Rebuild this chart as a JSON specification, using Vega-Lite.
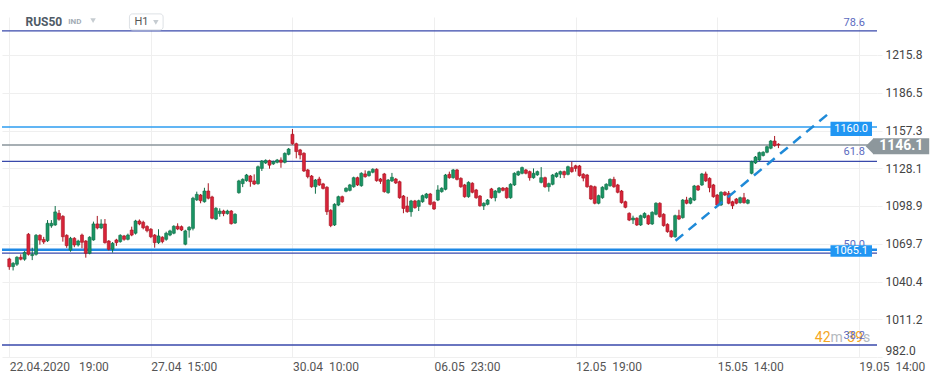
{
"$schema": "https://vega.github.io/schema/vega-lite/v6.json",
"width": 875, "height": 340,
"autosize": {"type": "none"},
"padding": {"left": 2, "top": 17, "right": 68, "bottom": 26},
"background": "#ffffff",
"config": {"view": {"stroke": null}, "font": "Roboto", "text": {"font": "Roboto"}},
"datasets": {
"candles": [
{"i":0,"o":1057.9,"h":1058.8,"l":1049.5,"c":1051.9},
{"i":1,"o":1052.0,"h":1055.5,"l":1049.0,"c":1054.5},
{"i":2,"o":1053.8,"h":1060.0,"l":1052.5,"c":1059.2},
{"i":3,"o":1059.2,"h":1061.5,"l":1056.8,"c":1057.7},
{"i":4,"o":1057.7,"h":1064.0,"l":1056.5,"c":1063.0},
{"i":5,"o":1077.0,"h":1078.0,"l":1060.5,"c":1061.5},
{"i":6,"o":1060.5,"h":1066.6,"l":1057.0,"c":1061.5},
{"i":7,"o":1061.5,"h":1077.2,"l":1060.5,"c":1076.2},
{"i":8,"o":1076.2,"h":1077.0,"l":1069.0,"c":1072.5},
{"i":9,"o":1073.0,"h":1075.0,"l":1069.5,"c":1071.0},
{"i":10,"o":1072.0,"h":1088.0,"l":1071.0,"c":1085.5},
{"i":11,"o":1083.5,"h":1088.0,"l":1082.0,"c":1085.5},
{"i":12,"o":1084.2,"h":1098.9,"l":1083.5,"c":1094.3},
{"i":13,"o":1093.2,"h":1095.8,"l":1087.5,"c":1088.6},
{"i":14,"o":1090.9,"h":1091.8,"l":1071.3,"c":1075.1},
{"i":15,"o":1076.2,"h":1077.0,"l":1066.5,"c":1068.2},
{"i":16,"o":1064.8,"h":1075.0,"l":1063.5,"c":1073.9},
{"i":17,"o":1073.9,"h":1074.8,"l":1067.0,"c":1068.7},
{"i":18,"o":1068.7,"h":1072.8,"l":1067.5,"c":1071.8},
{"i":19,"o":1076.4,"h":1077.5,"l":1066.2,"c":1070.8},
{"i":20,"o":1071.8,"h":1072.5,"l":1058.9,"c":1062.3},
{"i":21,"o":1062.3,"h":1075.5,"l":1061.5,"c":1074.7},
{"i":22,"o":1072.6,"h":1086.8,"l":1072.0,"c":1085.0},
{"i":23,"o":1085.0,"h":1091.2,"l":1080.8,"c":1081.9},
{"i":24,"o":1081.9,"h":1088.6,"l":1081.0,"c":1085.0},
{"i":25,"o":1085.0,"h":1088.8,"l":1069.8,"c":1070.5},
{"i":26,"o":1071.8,"h":1072.5,"l":1064.5,"c":1065.4},
{"i":27,"o":1065.4,"h":1071.0,"l":1062.8,"c":1070.0},
{"i":28,"o":1072.6,"h":1073.5,"l":1068.0,"c":1070.5},
{"i":29,"o":1071.3,"h":1077.0,"l":1070.5,"c":1076.2},
{"i":30,"o":1075.7,"h":1076.5,"l":1072.0,"c":1073.1},
{"i":31,"o":1073.1,"h":1077.5,"l":1072.3,"c":1076.4},
{"i":32,"o":1080.3,"h":1082.9,"l":1075.5,"c":1076.4},
{"i":33,"o":1077.8,"h":1088.2,"l":1076.8,"c":1087.3},
{"i":34,"o":1087.3,"h":1088.5,"l":1084.0,"c":1085.0},
{"i":35,"o":1086.3,"h":1087.5,"l":1080.8,"c":1082.0},
{"i":36,"o":1083.0,"h":1084.0,"l":1078.5,"c":1079.8},
{"i":37,"o":1080.9,"h":1081.8,"l":1074.0,"c":1075.1},
{"i":38,"o":1076.4,"h":1077.2,"l":1066.6,"c":1070.5},
{"i":39,"o":1070.5,"h":1080.9,"l":1069.5,"c":1075.7},
{"i":40,"o":1074.7,"h":1075.5,"l":1070.0,"c":1071.3},
{"i":41,"o":1073.1,"h":1079.0,"l":1072.0,"c":1077.8},
{"i":42,"o":1076.4,"h":1080.5,"l":1075.5,"c":1079.6},
{"i":43,"o":1077.8,"h":1084.0,"l":1077.0,"c":1083.2},
{"i":44,"o":1083.2,"h":1085.5,"l":1080.2,"c":1081.1},
{"i":45,"o":1082.9,"h":1083.8,"l":1079.5,"c":1080.3},
{"i":46,"o":1069.3,"h":1080.5,"l":1068.5,"c":1079.6},
{"i":47,"o":1080.3,"h":1083.3,"l":1074.4,"c":1082.4},
{"i":48,"o":1081.6,"h":1106.0,"l":1080.0,"c":1104.9},
{"i":49,"o":1103.6,"h":1110.0,"l":1102.8,"c":1107.9},
{"i":50,"o":1107.4,"h":1108.2,"l":1101.0,"c":1103.0},
{"i":51,"o":1102.2,"h":1113.0,"l":1101.5,"c":1110.5},
{"i":52,"o":1110.5,"h":1116.5,"l":1104.0,"c":1104.9},
{"i":53,"o":1105.9,"h":1106.8,"l":1088.6,"c":1089.4},
{"i":54,"o":1088.8,"h":1098.0,"l":1088.0,"c":1097.1},
{"i":55,"o":1093.0,"h":1097.1,"l":1090.6,"c":1095.0},
{"i":56,"o":1095.0,"h":1096.0,"l":1091.0,"c":1093.0},
{"i":57,"o":1093.0,"h":1096.0,"l":1092.2,"c":1095.0},
{"i":58,"o":1095.0,"h":1095.8,"l":1084.5,"c":1085.2},
{"i":59,"o":1085.7,"h":1093.3,"l":1085.0,"c":1092.5},
{"i":60,"o":1109.2,"h":1119.2,"l":1108.4,"c":1118.3},
{"i":61,"o":1116.2,"h":1120.3,"l":1113.5,"c":1119.5},
{"i":62,"o":1118.5,"h":1123.7,"l":1117.7,"c":1122.9},
{"i":63,"o":1122.1,"h":1122.9,"l":1113.8,"c":1117.7},
{"i":64,"o":1118.3,"h":1123.4,"l":1115.1,"c":1115.9},
{"i":65,"o":1116.2,"h":1130.2,"l":1115.4,"c":1129.3},
{"i":66,"o":1128.0,"h":1134.5,"l":1126.0,"c":1133.7},
{"i":67,"o":1132.2,"h":1135.0,"l":1131.4,"c":1134.2},
{"i":68,"o":1134.0,"h":1134.8,"l":1127.8,"c":1130.5},
{"i":69,"o":1131.5,"h":1134.0,"l":1130.7,"c":1133.2},
{"i":70,"o":1132.7,"h":1135.3,"l":1131.9,"c":1134.5},
{"i":71,"o":1134.5,"h":1136.5,"l":1128.5,"c":1132.7},
{"i":72,"o":1132.7,"h":1140.4,"l":1131.9,"c":1139.6},
{"i":73,"o":1138.9,"h":1143.8,"l":1138.1,"c":1143.0},
{"i":74,"o":1154.4,"h":1158.5,"l":1146.3,"c":1147.1},
{"i":75,"o":1147.1,"h":1147.9,"l":1135.8,"c":1141.0},
{"i":76,"o":1142.3,"h":1143.1,"l":1135.0,"c":1138.4},
{"i":77,"o":1139.7,"h":1140.5,"l":1125.2,"c":1126.0},
{"i":78,"o":1126.8,"h":1127.6,"l":1120.3,"c":1121.6},
{"i":79,"o":1122.1,"h":1122.9,"l":1113.0,"c":1113.8},
{"i":80,"o":1113.8,"h":1119.8,"l":1108.4,"c":1119.0},
{"i":81,"o":1119.8,"h":1121.5,"l":1114.4,"c":1115.2},
{"i":82,"o":1116.0,"h":1116.8,"l":1111.7,"c":1112.5},
{"i":83,"o":1113.4,"h":1114.2,"l":1092.0,"c":1094.5},
{"i":84,"o":1095.6,"h":1096.4,"l":1082.5,"c":1083.7},
{"i":85,"o":1084.2,"h":1101.0,"l":1083.4,"c":1100.2},
{"i":86,"o":1099.6,"h":1106.9,"l":1098.8,"c":1106.1},
{"i":87,"o":1106.1,"h":1106.9,"l":1101.4,"c":1102.2},
{"i":88,"o":1110.3,"h":1113.4,"l":1109.5,"c":1112.6},
{"i":89,"o":1111.0,"h":1116.0,"l":1110.2,"c":1115.2},
{"i":90,"o":1113.8,"h":1121.6,"l":1113.0,"c":1120.8},
{"i":91,"o":1120.8,"h":1121.6,"l":1114.4,"c":1115.2},
{"i":92,"o":1114.6,"h":1125.0,"l":1113.8,"c":1124.2},
{"i":93,"o":1123.7,"h":1126.5,"l":1120.8,"c":1121.6},
{"i":94,"o":1122.4,"h":1126.3,"l":1121.6,"c":1125.5},
{"i":95,"o":1125.0,"h":1128.1,"l":1124.2,"c":1127.3},
{"i":96,"o":1127.3,"h":1128.1,"l":1117.7,"c":1118.5},
{"i":97,"o":1119.8,"h":1120.6,"l":1116.0,"c":1118.0},
{"i":98,"o":1123.7,"h":1124.5,"l":1109.2,"c":1110.0},
{"i":99,"o":1109.2,"h":1119.8,"l":1108.4,"c":1119.0},
{"i":100,"o":1118.3,"h":1124.5,"l":1117.5,"c":1121.1},
{"i":101,"o":1119.8,"h":1120.6,"l":1115.9,"c":1116.7},
{"i":102,"o":1117.7,"h":1118.5,"l":1104.5,"c":1105.3},
{"i":103,"o":1106.6,"h":1107.4,"l":1093.3,"c":1097.0},
{"i":104,"o":1098.9,"h":1106.0,"l":1093.7,"c":1094.5},
{"i":105,"o":1094.5,"h":1103.6,"l":1090.6,"c":1102.8},
{"i":106,"o":1102.8,"h":1103.6,"l":1096.8,"c":1097.6},
{"i":107,"o":1098.6,"h":1103.8,"l":1095.0,"c":1103.0},
{"i":108,"o":1102.2,"h":1107.7,"l":1101.4,"c":1106.9},
{"i":109,"o":1105.3,"h":1109.0,"l":1104.5,"c":1108.2},
{"i":110,"o":1108.2,"h":1109.0,"l":1099.4,"c":1100.2},
{"i":111,"o":1101.8,"h":1102.6,"l":1095.8,"c":1096.6},
{"i":112,"o":1103.5,"h":1115.0,"l":1102.7,"c":1111.3},
{"i":113,"o":1110.0,"h":1113.4,"l":1109.2,"c":1112.6},
{"i":114,"o":1111.8,"h":1123.7,"l":1111.0,"c":1122.9},
{"i":115,"o":1123.4,"h":1125.5,"l":1120.0,"c":1120.8},
{"i":116,"o":1120.8,"h":1127.6,"l":1120.0,"c":1126.8},
{"i":117,"o":1126.8,"h":1127.6,"l":1118.7,"c":1119.5},
{"i":118,"o":1120.3,"h":1121.1,"l":1113.0,"c":1113.8},
{"i":119,"o":1115.2,"h":1116.0,"l":1105.3,"c":1106.1},
{"i":120,"o":1106.1,"h":1118.0,"l":1105.3,"c":1117.2},
{"i":121,"o":1116.5,"h":1117.3,"l":1108.7,"c":1109.5},
{"i":122,"o":1111.3,"h":1112.1,"l":1104.5,"c":1105.3},
{"i":123,"o":1106.6,"h":1107.4,"l":1098.3,"c":1099.1},
{"i":124,"o":1098.9,"h":1101.8,"l":1095.8,"c":1101.0},
{"i":125,"o":1100.2,"h":1104.3,"l":1099.4,"c":1103.5},
{"i":126,"o":1112.1,"h":1112.9,"l":1104.5,"c":1105.3},
{"i":127,"o":1105.3,"h":1111.3,"l":1102.5,"c":1110.5},
{"i":128,"o":1109.5,"h":1113.6,"l":1108.7,"c":1112.8},
{"i":129,"o":1112.8,"h":1113.6,"l":1110.2,"c":1111.0},
{"i":130,"o":1112.8,"h":1113.6,"l":1104.5,"c":1105.3},
{"i":131,"o":1105.3,"h":1116.5,"l":1104.5,"c":1115.7},
{"i":132,"o":1115.2,"h":1125.0,"l":1114.4,"c":1124.2},
{"i":133,"o":1122.9,"h":1126.3,"l":1122.1,"c":1125.5},
{"i":134,"o":1124.2,"h":1129.4,"l":1123.4,"c":1128.6},
{"i":135,"o":1126.8,"h":1127.6,"l":1123.4,"c":1124.2},
{"i":136,"o":1125.5,"h":1126.3,"l":1118.5,"c":1120.8},
{"i":137,"o":1120.8,"h":1128.0,"l":1120.0,"c":1124.2},
{"i":138,"o":1123.0,"h":1126.3,"l":1122.2,"c":1125.5},
{"i":139,"o":1117.2,"h":1129.0,"l":1116.4,"c":1120.8},
{"i":140,"o":1120.8,"h":1121.6,"l":1113.0,"c":1113.8},
{"i":141,"o":1113.8,"h":1117.0,"l":1110.0,"c":1116.2},
{"i":142,"o":1115.7,"h":1123.7,"l":1114.9,"c":1122.9},
{"i":143,"o":1121.6,"h":1125.0,"l":1120.8,"c":1124.2},
{"i":144,"o":1123.5,"h":1126.3,"l":1120.5,"c":1125.5},
{"i":145,"o":1125.5,"h":1126.3,"l":1120.5,"c":1123.0},
{"i":146,"o":1123.4,"h":1130.1,"l":1122.6,"c":1129.3},
{"i":147,"o":1128.6,"h":1133.2,"l":1124.7,"c":1125.5},
{"i":148,"o":1130.0,"h":1130.8,"l":1125.5,"c":1128.0},
{"i":149,"o":1129.9,"h":1130.7,"l":1121.6,"c":1122.4},
{"i":150,"o":1123.5,"h":1124.3,"l":1118.0,"c":1120.5},
{"i":151,"o":1122.9,"h":1123.7,"l":1113.0,"c":1113.8},
{"i":152,"o":1114.4,"h":1115.2,"l":1103.5,"c":1104.3},
{"i":153,"o":1113.8,"h":1114.6,"l":1100.2,"c":1101.0},
{"i":154,"o":1101.0,"h":1107.7,"l":1100.2,"c":1106.9},
{"i":155,"o":1105.3,"h":1114.2,"l":1104.5,"c":1113.4},
{"i":156,"o":1111.8,"h":1116.5,"l":1111.0,"c":1115.7},
{"i":157,"o":1114.6,"h":1120.3,"l":1113.8,"c":1119.5},
{"i":158,"o":1119.5,"h":1121.5,"l":1113.0,"c":1113.8},
{"i":159,"o":1115.2,"h":1116.0,"l":1108.7,"c":1109.5},
{"i":160,"o":1110.5,"h":1111.3,"l":1100.7,"c":1101.5},
{"i":161,"o":1102.2,"h":1103.0,"l":1097.1,"c":1097.9},
{"i":162,"o":1093.2,"h":1094.0,"l":1087.2,"c":1088.0},
{"i":163,"o":1088.1,"h":1091.4,"l":1085.0,"c":1089.6},
{"i":164,"o":1089.4,"h":1090.2,"l":1083.4,"c":1084.2},
{"i":165,"o":1084.2,"h":1092.2,"l":1083.4,"c":1091.4},
{"i":166,"o":1090.0,"h":1094.0,"l":1089.2,"c":1093.2},
{"i":167,"o":1091.4,"h":1092.2,"l":1084.2,"c":1085.0},
{"i":168,"o":1085.0,"h":1094.8,"l":1084.2,"c":1094.0},
{"i":169,"o":1092.5,"h":1101.8,"l":1091.7,"c":1101.0},
{"i":170,"o":1101.0,"h":1101.8,"l":1089.8,"c":1090.6},
{"i":171,"o":1092.5,"h":1093.3,"l":1082.9,"c":1083.7},
{"i":172,"o":1084.7,"h":1085.5,"l":1078.2,"c":1079.0},
{"i":173,"o":1079.6,"h":1080.4,"l":1074.3,"c":1075.1},
{"i":174,"o":1075.1,"h":1092.2,"l":1074.3,"c":1091.4},
{"i":175,"o":1091.4,"h":1096.0,"l":1088.0,"c":1088.8},
{"i":176,"o":1089.9,"h":1104.3,"l":1089.1,"c":1103.5},
{"i":177,"o":1103.5,"h":1106.0,"l":1100.2,"c":1101.0},
{"i":178,"o":1101.0,"h":1105.7,"l":1100.2,"c":1104.9},
{"i":179,"o":1103.5,"h":1115.2,"l":1102.7,"c":1114.4},
{"i":180,"o":1114.4,"h":1115.2,"l":1110.5,"c":1111.3},
{"i":181,"o":1115.2,"h":1124.5,"l":1114.4,"c":1123.7},
{"i":182,"o":1123.7,"h":1125.5,"l":1117.5,"c":1118.3},
{"i":183,"o":1120.3,"h":1121.1,"l":1109.5,"c":1113.1},
{"i":184,"o":1115.2,"h":1116.0,"l":1105.3,"c":1106.1},
{"i":185,"o":1107.4,"h":1108.2,"l":1098.9,"c":1099.7},
{"i":186,"o":1099.7,"h":1110.3,"l":1098.9,"c":1109.5},
{"i":187,"o":1109.5,"h":1110.3,"l":1106.6,"c":1107.4},
{"i":188,"o":1108.7,"h":1110.5,"l":1100.2,"c":1101.0},
{"i":189,"o":1102.2,"h":1103.0,"l":1096.6,"c":1099.1},
{"i":190,"o":1104.3,"h":1105.1,"l":1100.2,"c":1101.0},
{"i":191,"o":1101.5,"h":1106.1,"l":1100.7,"c":1105.3},
{"i":192,"o":1105.3,"h":1109.0,"l":1100.7,"c":1101.5},
{"i":193,"o":1101.0,"h":1104.3,"l":1100.2,"c":1103.5},
{"i":194,"o":1124.2,"h":1134.0,"l":1123.4,"c":1133.2},
{"i":195,"o":1132.2,"h":1137.6,"l":1131.4,"c":1136.8},
{"i":196,"o":1134.5,"h":1141.0,"l":1133.7,"c":1140.2},
{"i":197,"o":1138.0,"h":1141.3,"l":1137.2,"c":1140.5},
{"i":198,"o":1140.5,"h":1145.6,"l":1139.7,"c":1144.8},
{"i":199,"o":1143.6,"h":1150.0,"l":1142.8,"c":1149.2},
{"i":200,"o":1149.2,"h":1153.1,"l":1144.8,"c":1145.6},
{"i":201,"o":1146.7,"h":1147.5,"l":1143.7,"c":1146.1}
]
},
"data": {"values": [{}]},
"layer": [
{
"data": {"name": "candles"},
"mark": {"type": "rule", "strokeWidth": 1, "opacity": 0},
"encoding": {
"x": {"field": "i", "type": "quantitative", "scale": {"domain": [-0.594, 225.45], "nice": false, "zero": false},
"axis": {"title": null, "orient": "bottom", "values": [0, 37, 74, 111, 148, 185, 222], "grid": true, "gridColor": "#efefef", "ticks": false, "domain": false, "labelAlign": "left", "labelPadding": 4, "labelFontSize": 12, "labelColor": "#555555", "labelFont": "Roboto", "labelOverlap": false, "labelFlush": false,
"labelExpr": "datum.value == 0 ? '22.04.2020\u00a0\u00a0\u00a019:00' : datum.value == 37 ? '27.04\u00a0\u00a015:00' : datum.value == 74 ? '30.04\u00a0\u00a010:00' : datum.value == 111 ? '06.05\u00a0\u00a023:00' : datum.value == 148 ? '12.05\u00a0\u00a019:00' : datum.value == 185 ? '15.05\u00a0\u00a014:00' : '19.05\u00a0\u00a014:00'"}},
"y": {"field": "l", "type": "quantitative", "scale": {"domain": [982, 1245.2], "nice": false, "zero": false},
"axis": {"title": null, "orient": "right", "values": [982.0, 1011.2, 1040.4, 1069.7, 1098.9, 1128.1, 1157.3, 1186.5, 1215.8], "format": ".1f", "grid": true, "gridColor": "#efefef", "tickColor": "#efefef", "tickSize": 5, "domain": false, "labelPadding": 3, "labelFontSize": 12, "labelColor": "#444444", "labelFont": "Roboto", "labelFlush": true, "labelFlushOffset": 0}},
"y2": {"field": "h"}
}
},
{
"data": {"values": [{"v": 1234.4}, {"v": 1133.4}, {"v": 1062.4}, {"v": 991.3}]},
"mark": {"type": "rule", "color": "#3949ab", "strokeWidth": 1.3},
"encoding": {"y": {"field": "v", "type": "quantitative"}}
},
{
"data": {"values": [{"v": 1160.0}]},
"mark": {"type": "rule", "color": "#2d9cf0", "strokeWidth": 1.5},
"encoding": {"y": {"field": "v", "type": "quantitative"}}
},
{
"data": {"values": [{"v": 1065.1}]},
"mark": {"type": "rule", "color": "#1e88e5", "strokeWidth": 2.5},
"encoding": {"y": {"field": "v", "type": "quantitative"}}
},
{
"data": {"values": [{"v": 1146.1}]},
"mark": {"type": "rule", "color": "#8a959b", "strokeWidth": 1.3},
"encoding": {"y": {"field": "v", "type": "quantitative"}}
},
{
"data": {"name": "candles"},
"mark": {"type": "rule", "strokeWidth": 1},
"encoding": {
"x": {"field": "i", "type": "quantitative"},
"y": {"field": "l", "type": "quantitative"},
"y2": {"field": "h"},
"color": {"condition": {"test": "datum.c >= datum.o", "value": "#0f6e47"}, "value": "#a8141f"}
}
},
{
"data": {"name": "candles"},
"mark": {"type": "bar", "size": 3, "strokeWidth": 0.6},
"encoding": {
"x": {"field": "i", "type": "quantitative"},
"y": {"field": "o", "type": "quantitative"},
"y2": {"field": "c"},
"fill": {"condition": {"test": "datum.c >= datum.o", "value": "#1a9464"}, "value": "#d8233a"},
"stroke": {"condition": {"test": "datum.c >= datum.o", "value": "#0f6e47"}, "value": "#a8141f"}
}
},
{
"data": {"values": [{"i": 174.1, "v": 1072.0}, {"i": 214.2, "v": 1170.7}]},
"mark": {"type": "line", "color": "#1f8ad8", "strokeWidth": 2.5, "strokeDash": [10, 7]},
"encoding": {
"x": {"field": "i", "type": "quantitative"},
"y": {"field": "v", "type": "quantitative"}
}
},
{
"mark": {"type": "text", "text": "42", "align": "left", "baseline": "middle", "fontSize": 14, "color": "#f5a623"},
"encoding": {"x": {"datum": 210.5, "type": "quantitative"}, "y": {"datum": 996.7, "type": "quantitative"}}
},
{
"mark": {"type": "text", "text": "m", "align": "left", "baseline": "middle", "fontSize": 14, "color": "#b4b9be"},
"encoding": {"x": {"datum": 214.6, "type": "quantitative"}, "y": {"datum": 996.7, "type": "quantitative"}}
},
{
"mark": {"type": "text", "text": "39", "align": "left", "baseline": "middle", "fontSize": 14, "color": "#f5a623"},
"encoding": {"x": {"datum": 219.0, "type": "quantitative"}, "y": {"datum": 996.7, "type": "quantitative"}}
},
{
"mark": {"type": "text", "text": "s", "align": "left", "baseline": "middle", "fontSize": 14, "color": "#b4b9be"},
"encoding": {"x": {"datum": 223.1, "type": "quantitative"}, "y": {"datum": 996.7, "type": "quantitative"}}
},
{
"data": {"values": [{"t": "78.6", "v": 1240.6}, {"t": "61.8", "v": 1140.5}, {"t": "50.0", "v": 1068.7}, {"t": "38.2", "v": 998.6}]},
"mark": {"type": "text", "align": "right", "baseline": "middle", "fontSize": 11, "color": "#5c6bc0"},
"encoding": {
"text": {"field": "t"},
"x": {"datum": 223.6, "type": "quantitative"},
"y": {"field": "v", "type": "quantitative"}
}
},
{
"mark": {"type": "rect", "color": "#2196f3"},
"encoding": {"x": {"datum": 214.6, "type": "quantitative"}, "x2": {"datum": 225.45}, "y": {"datum": 1164.2, "type": "quantitative"}, "y2": {"datum": 1153.1}}
},
{
"mark": {"type": "text", "text": "1160.0", "align": "center", "baseline": "middle", "fontSize": 11, "color": "#ffffff"},
"encoding": {"x": {"datum": 220.0, "type": "quantitative"}, "y": {"datum": 1158.6, "type": "quantitative"}}
},
{
"mark": {"type": "rect", "color": "#2196f3"},
"encoding": {"x": {"datum": 214.6, "type": "quantitative"}, "x2": {"datum": 225.45}, "y": {"datum": 1068.5, "type": "quantitative"}, "y2": {"datum": 1059.7}}
},
{
"mark": {"type": "text", "text": "1065.1", "align": "center", "baseline": "middle", "fontSize": 11, "color": "#ffffff"},
"encoding": {"x": {"datum": 220.0, "type": "quantitative"}, "y": {"datum": 1064.1, "type": "quantitative"}}
},
{
"mark": {"type": "rect", "color": "#8d979c"},
"encoding": {"x": {"datum": 225.7, "type": "quantitative"}, "x2": {"datum": 240.4}, "y": {"datum": 1151.3, "type": "quantitative"}, "y2": {"datum": 1138.9}}
},
{
"mark": {"type": "point", "shape": "M0,-1L-1,0L0,1Z", "size": 225, "filled": true, "color": "#8d979c", "opacity": 1},
"encoding": {"x": {"datum": 225.75, "type": "quantitative"}, "y": {"datum": 1145.1, "type": "quantitative"}}
},
{
"mark": {"type": "text", "text": "1146.1", "align": "center", "baseline": "middle", "fontSize": 14, "fontWeight": "bold", "color": "#ffffff"},
"encoding": {"x": {"datum": 233.1, "type": "quantitative"}, "y": {"datum": 1145.1, "type": "quantitative"}}
},
{
"mark": {"type": "text", "text": "RUS50", "align": "left", "baseline": "middle", "fontSize": 12, "fontWeight": "bold", "color": "#4f5b66"},
"encoding": {"x": {"datum": 4.24, "type": "quantitative"}, "y": {"datum": 1241.0, "type": "quantitative"}}
},
{
"mark": {"type": "text", "text": "IND", "align": "left", "baseline": "middle", "fontSize": 8, "fontWeight": "bold", "color": "#a3acb5"},
"encoding": {"x": {"datum": 15.4, "type": "quantitative"}, "y": {"datum": 1241.0, "type": "quantitative"}}
},
{
"mark": {"type": "point", "shape": "triangle-down", "size": 30, "filled": true, "color": "#c6ccd1", "opacity": 1},
"encoding": {"x": {"datum": 21.9, "type": "quantitative"}, "y": {"datum": 1242.3, "type": "quantitative"}}
},
{
"mark": {"type": "rect", "fill": "#ffffff", "stroke": "#dde1e5", "strokeWidth": 1, "cornerRadius": 3},
"encoding": {"x": {"datum": 31.4, "type": "quantitative"}, "x2": {"datum": 40.2}, "y": {"datum": 1247.6, "type": "quantitative"}, "y2": {"datum": 1235.2}}
},
{
"mark": {"type": "text", "text": "H1", "align": "left", "baseline": "middle", "fontSize": 11, "color": "#555555"},
"encoding": {"x": {"datum": 32.7, "type": "quantitative"}, "y": {"datum": 1241.4, "type": "quantitative"}}
},
{
"mark": {"type": "point", "shape": "triangle-down", "size": 30, "filled": true, "color": "#c6ccd1", "opacity": 1},
"encoding": {"x": {"datum": 38.3, "type": "quantitative"}, "y": {"datum": 1241.0, "type": "quantitative"}}
}
]
}
